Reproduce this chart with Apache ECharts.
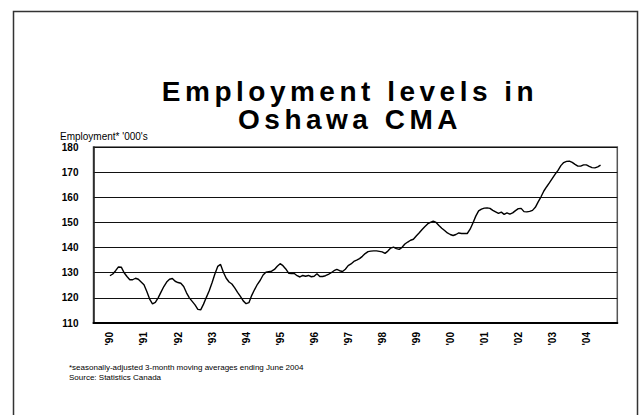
<!DOCTYPE html>
<html>
<head>
<meta charset="utf-8">
<script src="https://cdn.jsdelivr.net/npm/echarts@6/dist/echarts.min.js"></script>
<style>
  html, body { margin: 0; padding: 0; background: #fff; }
  #chart { width: 639px; height: 415px; }
</style>
</head>
<body>
<div id="chart"></div>
<script>
// Monthly employment ('000s), Jan 1990 .. Jun 2004, 3-month moving averages
const employment = [
  128.8, 129.5, 130.8, 132.3, 132.2, 130.0, 128.5, 127.2, 127.2, 127.8, 127.4, 126.3, // 1990
  125.2, 122.5, 119.5, 117.6, 118.2, 120.0, 122.3, 124.5, 126.3, 127.4, 127.7, 126.6, // 1991
  126.1, 125.8, 124.5, 122.0, 120.0, 118.6, 117.2, 115.4, 115.2, 117.5, 120.2, 122.8, // 1992
  126.0, 129.5, 132.5, 133.3, 130.2, 127.8, 126.3, 125.5, 124.0, 122.2, 120.6, 118.8, // 1993
  117.7, 118.1, 121.0, 123.3, 125.4, 127.0, 129.1, 130.2, 130.4, 130.6, 131.3, 132.6, // 1994
  133.6, 132.8, 131.5, 129.8, 129.7, 129.7, 128.8, 128.3, 128.9, 128.6, 128.9, 128.4, // 1995
  128.6, 129.6, 128.5, 128.5, 128.8, 129.3, 130.0, 130.8, 131.3, 130.8, 130.5, 131.4, // 1996
  132.8, 133.5, 134.5, 135.0, 135.6, 136.5, 137.6, 138.4, 138.6, 138.7, 138.7, 138.5, // 1997
  138.3, 137.7, 138.6, 139.8, 140.2, 139.6, 139.3, 140.1, 141.4, 142.2, 142.9, 143.3, // 1998
  144.6, 145.8, 147.1, 148.3, 149.4, 150.0, 150.5, 150.0, 148.8, 147.7, 146.8, 145.8, // 1999
  145.2, 144.8, 145.2, 145.8, 145.6, 145.6, 145.6, 147.3, 149.8, 152.5, 154.6, 155.3, // 2000
  155.7, 155.8, 155.6, 154.8, 154.2, 153.6, 154.1, 153.2, 153.8, 153.3, 153.8, 154.7, // 2001
  155.5, 155.6, 154.3, 154.2, 154.4, 154.8, 156.0, 158.2, 160.2, 162.5, 164.2, 165.8, // 2002
  167.5, 169.2, 170.7, 172.6, 173.8, 174.3, 174.4, 173.9, 173.1, 172.4, 172.4, 172.9, // 2003
  172.9, 172.3, 171.8, 171.7, 172.1, 172.8                                              // 2004
];
const yearLabels = ["'90","'91","'92","'93","'94","'95","'96","'97","'98","'99","'00","'01","'02","'03","'04"];
const yearTickMonths = yearLabels.map((_, i) => i * 12);
const titleLines = ["Employment levels in", "Oshawa CMA"];
const yAxisTitle = "Employment* '000's";
const footnotes = ["*seasonally-adjusted 3-month moving averages ending June 2004", "Source: Statistics Canada"];

const FONT = "'Liberation Sans', Arial, sans-serif";
const chart = echarts.init(document.getElementById('chart'), null, { renderer: 'svg' });

chart.setOption({
  animation: false,
  backgroundColor: '#fff',
  title: [
    { text: titleLines[0], left: 345, top: 86, textAlign: 'center', textVerticalAlign: 'middle',
      textStyle: { fontFamily: FONT, fontWeight: 'bold', fontSize: 28, color: '#000' } },
    { text: titleLines[1], left: 345, top: 114, textAlign: 'center', textVerticalAlign: 'middle',
      textStyle: { fontFamily: FONT, fontWeight: 'bold', fontSize: 28, color: '#000' } }
  ],
  graphic: [
    { type: 'rect', shape: { x: 13.5, y: 11.5, width: 624, height: 430 },
      style: { fill: 'none', stroke: '#333', lineWidth: 1.5 }, silent: true },
    { type: 'text', left: 60, top: 131,
      style: { text: yAxisTitle, font: '10px ' + FONT, fill: '#000' } },
    { type: 'text', left: 69, top: 363,
      style: { text: footnotes[0], font: '8px ' + FONT, fill: '#000' } },
    { type: 'text', left: 69, top: 373,
      style: { text: footnotes[1], font: '8px ' + FONT, fill: '#000' } }
  ],
  grid: { left: 93.5, right: 21.7, top: 147, bottom: 92, show: true,
          borderColor: '#555', borderWidth: 1.5, containLabel: false },
  xAxis: {
    type: 'value', min: -5.8, max: 178.9,
    axisLine: { show: true, onZero: false, lineStyle: { color: '#000', width: 2 } },
    axisTick: { show: false },
    splitLine: { show: false },
    axisLabel: {
      customValues: yearTickMonths,
      rotate: 90, margin: 9,
      fontFamily: FONT, fontWeight: 'bold', fontSize: 10, color: '#000',
      formatter: v => yearLabels[Math.round(v / 12)]
    }
  },
  yAxis: {
    type: 'value', min: 110, max: 180, interval: 10,
    axisLine: { show: true, onZero: false, lineStyle: { color: '#222', width: 1.5 } },
    axisTick: { show: false },
    splitLine: { show: true, lineStyle: { color: '#111', width: 1 } },
    axisLabel: { fontFamily: FONT, fontWeight: 'bold', fontSize: 10, color: '#000', margin: 15 }
  },
  series: [{
    type: 'line',
    data: employment.map((v, i) => [i, v]),
    showSymbol: false,
    lineStyle: { color: '#000', width: 1.4 },
    silent: true
  }]
});

function spaceTitle() {
  document.querySelectorAll('#chart svg text').forEach(t => {
    if (titleLines.includes(t.textContent)) {
      t.setAttribute('letter-spacing', '4.5');
    }
  });
}
spaceTitle();
chart.on('finished', spaceTitle);
setTimeout(spaceTitle, 0);
</script>
</body>
</html>
